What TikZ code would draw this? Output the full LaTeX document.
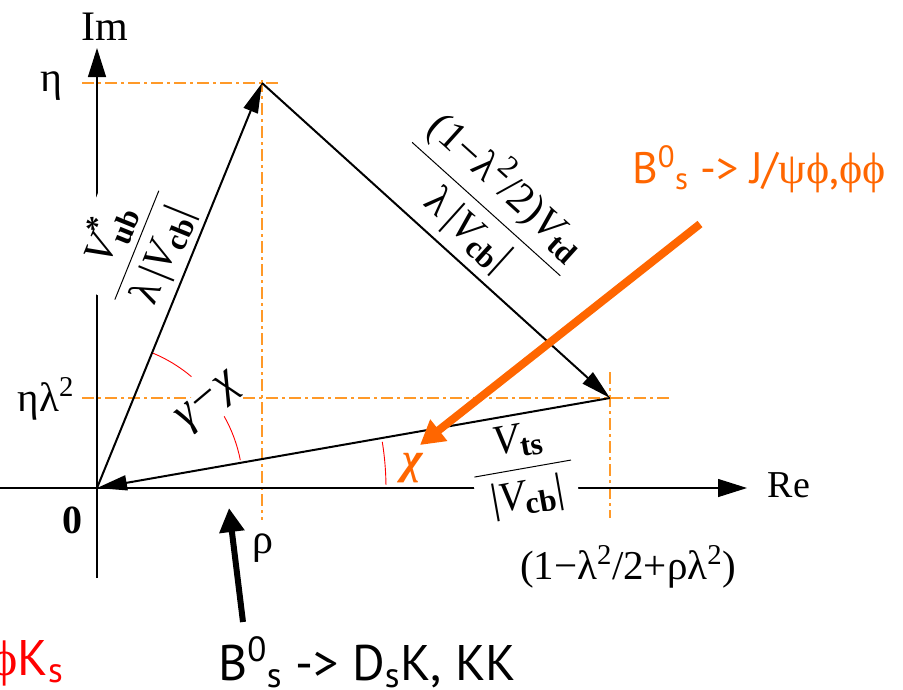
\RequirePackage{fix-cm}
\documentclass[tikz,border=0pt]{standalone}
\usepackage{amsmath}
\usepackage{fontspec}
\setmainfont{Liberation Serif}
\newfontfamily\comic{PT Sans}
\newfontfamily\grk{Liberation Serif}
\newfontfamily\grkalt{DejaVu Serif}
\usetikzlibrary{arrows.meta}
\definecolor{guideor}{RGB}{255,153,40}
\definecolor{arrowor}{RGB}{255,102,0}
\definecolor{lblred}{RGB}{255,0,0}
\newcommand\fs[1]{\fontsize{#1}{#1}\selectfont}
\newcommand\sphi{{\grk\iffontchar\font"03D5 \char"03D5\else{\grkalt\char"03D5}\fi}}
\newcommand\lsub[1]{_{\mbox{\fs{31}\bfseries #1}}}
\newcommand\lsup[1]{^{\mbox{\fs{31}#1}}}
\newcommand\Vit{\mbox{\itshape V}}
\begin{document}
\begin{tikzpicture}[x=1pt,y=-1pt,
  every node/.append style={inner sep=0pt},
  vec/.style={line width=2pt,-{Triangle[length=30pt,width=15pt]}},
  axisarrow/.style={line width=1.2pt,-{Triangle[length=29pt,width=18pt]}},
  guide/.style={draw=guideor,line width=1.1pt,dash pattern=on 12pt off 4pt on 3pt off 4pt},
  angarc/.style={draw=lblred,line width=0.9pt},
  mlabel/.style={font=\fs{42}},
  wlabel/.style={mlabel,fill=white,inner sep=1pt},
  txt/.style={anchor=base,font=\fs{39}},
  comictxt/.style={anchor=base west,font=\comic\fs{50}},
]
\useasboundingbox (0,0) rectangle (903,689);

% key points
\coordinate (O) at (97,488);
\coordinate (A) at (262,83);
\coordinate (B) at (610,398);
\coordinate (ImBot) at (97,578);
\coordinate (ImTop) at (97,48);
\coordinate (ReL) at (0,488);
\coordinate (ReR) at (747,488);
\coordinate (gA1) at (82,83);
\coordinate (gA2) at (278,83);
\coordinate (gA0) at (262,80);
\coordinate (gA3) at (262,520);
\coordinate (gB1) at (82,398);
\coordinate (gB2) at (670,398);
\coordinate (gB3) at (610,372);
\coordinate (gB4) at (610,518);

% orange guide lines
\draw[guide] (gA1) -- (gA2);
\draw[guide] (gA0) -- (gA3);
\draw[guide] (gB1) -- (gB2);
\draw[guide] (gB3) -- (gB4);

% axes
\draw[axisarrow] (ImBot) -- (ImTop);
\draw[axisarrow] (ReL) -- (ReR);

% side labels
\node[wlabel,rotate=68] (Lub) at (134,244)
  {$\displaystyle\frac{\Vit\lsup{\bfseries *}\lsub{ub}}{\hspace{8pt}\mbox{λ\,|}\Vit\lsub{cb}\mbox{|}\hspace{8pt}}$};
\node[mlabel,rotate=-42] (Ltd) at (489,206)
  {$\displaystyle\frac{\hspace{2pt}\mbox{(1−λ}\lsup{2}\mbox{/2)}\Vit\lsub{td}\hspace{2pt}}{\mbox{λ\,|}\Vit\lsub{cb}\mbox{|}}$};
\node[wlabel,rotate=10] (Lts) at (523,470)
  {$\displaystyle\frac{\Vit\lsub{ts}}{\hspace{12pt}\mbox{|}\Vit\lsub{cb}\mbox{|}\hspace{12pt}}$};
\node[wlabel,rotate=40,font=\fs{46}] (Lgc) at (210,403) {\textit{γ−χ}};

% angle arcs
\draw[angarc] (O) ++(-67.8:146) arc[start angle=-67.8,end angle=-49.7,radius=146];
\draw[angarc] (O) ++(-29.4:146) arc[start angle=-29.4,end angle=-11,radius=146];
\draw[angarc] (O) ++(-0.6:289) arc[start angle=-0.6,end angle=-9.2,radius=289];

% triangle
\draw[vec] (O) -- (A);
\draw[vec] (A) -- (B);
\draw[vec] (B) -- (O);

% thick arrows
\coordinate (Jstart) at (700,224);
\coordinate (Jtip) at (420,445);
\draw[draw=arrowor,line width=8pt,-{Triangle[length=24pt,width=26pt]}] (Jstart) -- (Jtip);
\coordinate (Dstart) at (243,622);
\coordinate (Dtip) at (229,508);
\draw[line width=6pt,-{Triangle[length=24pt,width=24pt]}] (Dstart) -- (Dtip);

% texts
\node[txt,font=\fs{42}] (Im) at (105,40) {Im};
\node[txt,font=\fs{38}] (Re) at (789,497) {Re};
\node[txt,font=\fs{42}] (eta) at (51,91) {η};
\node[txt,font=\fs{41}] (etal) at (46,411) {ηλ\textsuperscript{2}};
\node[txt,font=\fs{40}\bfseries] (zero) at (72,533) {0};
\node[txt,font=\fs{42}] (rho) at (263,553) {ρ};
\node[txt,font=\fs{41}] (xend) at (628,579) {(1−λ\textsuperscript{2}/2+ρλ\textsuperscript{2})};
\node[txt,font=\fs{44}\bfseries\itshape,text=arrowor] (chi) at (413,473) {χ};
\node[comictxt,font=\comic\fs{44},text=arrowor] (Jpsi) at (632,183)
  {B\textsuperscript{0}\textsubscript{s} -> J/{\grk ψ}\sphi,\sphi\sphi};
\node[comictxt] (DsK) at (218,680) {B\textsuperscript{0}\textsubscript{s} -> D\textsubscript{s}K, KK};
\node[comictxt,text=lblred] (phiK) at (-9,675) {\sphi K\textsubscript{s}};
\end{tikzpicture}
\end{document}
